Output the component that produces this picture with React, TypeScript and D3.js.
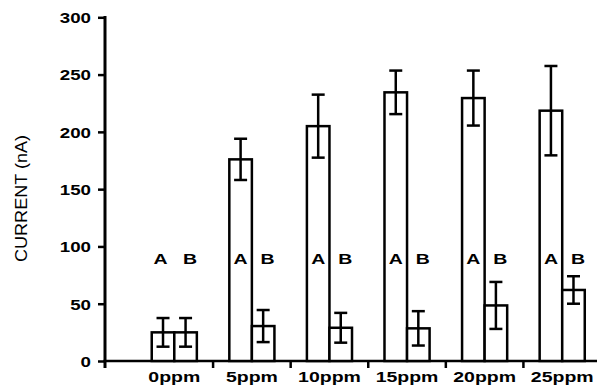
import { useEffect, useRef } from 'react';
import * as d3 from 'd3';

const categories = ['0ppm', '5ppm', '10ppm', '15ppm', '20ppm', '25ppm'];
const seriesNames = ['A', 'B'];
const valuesA = [25, 176, 205, 234.5, 229.5, 218.5];
const errorsA = [12.5, 18, 27.5, 19, 24, 39];
const valuesB = [25, 30.5, 29, 28.5, 48.5, 62];
const errorsB = [12.5, 14, 13, 15, 20.5, 12];
const yTicks = [0, 50, 100, 150, 200, 250, 300];
const letterLevel = 85; // where the A / B marks sit on the value axis

function App() {
  const svgRef = useRef<SVGSVGElement>(null);

  useEffect(() => {
    document.body.style.margin = '0';
    const w = 601;
    const h = 388;
    const svg = d3.select(svgRef.current).attr('width', w).attr('height', h);
    svg.selectAll('*').remove();

    const axisX = 105;
    const baseY = 361;
    const yScale = d3.scaleLinear().domain([0, 300]).range([baseY, 17.3]);
    const xScale = d3.scaleBand().domain(categories).range([135.5, 601]).padding(0);
    const inner = d3.scaleBand().domain(seriesNames).range([0, xScale.bandwidth()])
      .paddingInner(0).paddingOuter(0.72);

    const bold = 'Liberation Sans, Arial, sans-serif';

    // y axis
    const yAxis = svg.append('g')
      .attr('transform', `translate(${axisX},0)`)
      .call(d3.axisLeft(yScale).tickValues(yTicks).tickSize(7).tickSizeOuter(0));
    yAxis.select('.domain').remove();
    yAxis.selectAll('.tick line').attr('stroke', '#000').attr('stroke-width', 2.5);
    yAxis.selectAll('.tick text')
      .attr('x', 0)
      .attr('dy', '0.36em')
      .attr('transform', 'translate(-14,0) scale(1.25,1)')
      .attr('font-family', bold)
      .attr('font-weight', 'bold')
      .attr('font-size', 15)
      .attr('fill', '#000');

    svg.append('line')
      .attr('x1', axisX).attr('x2', axisX)
      .attr('y1', 16).attr('y2', 368)
      .attr('stroke', '#000').attr('stroke-width', 3);

    // x axis
    svg.append('line')
      .attr('x1', axisX - 1.5).attr('x2', 597)
      .attr('y1', baseY).attr('y2', baseY)
      .attr('stroke', '#000').attr('stroke-width', 2.5);

    svg.selectAll('.sep').data(categories.slice(1))
      .enter()
      .append('line')
      .attr('class', 'sep')
      .attr('x1', d => xScale(d)!).attr('x2', d => xScale(d)!)
      .attr('y1', baseY).attr('y2', baseY + 7)
      .attr('stroke', '#000').attr('stroke-width', 2.5);

    svg.selectAll('.xlabel').data(categories)
      .enter()
      .append('text')
      .attr('class', 'xlabel')
      .attr('transform', d => `translate(${xScale(d)! + xScale.bandwidth() / 2},382) scale(1.3,1)`)
      .attr('text-anchor', 'middle')
      .attr('font-family', bold)
      .attr('font-weight', 'bold')
      .attr('font-size', 15)
      .text(d => d);

    // y title
    svg.append('text')
      .attr('transform', 'translate(27,198.5) rotate(-90)')
      .attr('text-anchor', 'middle')
      .attr('font-family', 'Liberation Sans, Arial, sans-serif')
      .attr('font-size', 16.5)
      .attr('textLength', 127)
      .attr('lengthAdjust', 'spacingAndGlyphs')
      .text('CURRENT (nA)');

    const rows = categories.flatMap((c, i) => [
      { cat: c, s: 'A', v: valuesA[i], e: errorsA[i], i },
      { cat: c, s: 'B', v: valuesB[i], e: errorsB[i], i },
    ]);
    const bx = (d: any) => xScale(d.cat)! + inner(d.s)!;
    const bw = inner.bandwidth();

    svg.selectAll('.bar').data(rows)
      .enter()
      .append('rect')
      .attr('class', 'bar')
      .attr('x', d => bx(d))
      .attr('y', d => yScale(d.v))
      .attr('width', bw)
      .attr('height', d => baseY - yScale(d.v))
      .attr('fill', '#fff')
      .attr('stroke', '#000')
      .attr('stroke-width', 2.5);

    const err = svg.selectAll('.err').data(rows).enter().append('g').attr('class', 'err')
      .attr('stroke', '#000').attr('stroke-width', 2.5);
    err.append('line')
      .attr('x1', d => bx(d) + bw / 2).attr('x2', d => bx(d) + bw / 2)
      .attr('y1', d => yScale(d.v + d.e)).attr('y2', d => yScale(d.v - d.e));
    err.append('line')
      .attr('x1', d => bx(d) + bw / 2 - 6.5).attr('x2', d => bx(d) + bw / 2 + 6.5)
      .attr('y1', d => yScale(d.v + d.e)).attr('y2', d => yScale(d.v + d.e));
    err.append('line')
      .attr('x1', d => bx(d) + bw / 2 - 6.5).attr('x2', d => bx(d) + bw / 2 + 6.5)
      .attr('y1', d => yScale(d.v - d.e)).attr('y2', d => yScale(d.v - d.e));

    // A / B marks
    svg.selectAll('.mark').data(rows)
      .enter()
      .append('text')
      .attr('class', 'mark')
      .attr('transform', d => {
        const dx = d.s === 'B' ? 4.5 : (d.i === 0 ? -2.5 : 0);
        return `translate(${bx(d) + bw / 2 + dx},${yScale(letterLevel)}) scale(1.3,1)`;
      })
      .attr('text-anchor', 'middle')
      .attr('font-family', bold)
      .attr('font-weight', 'bold')
      .attr('font-size', 15)
      .text(d => d.s);
  }, []);

  return (
    <div className='Graph'>
      <svg ref={svgRef}></svg>
    </div>
  );
}

export default App;
